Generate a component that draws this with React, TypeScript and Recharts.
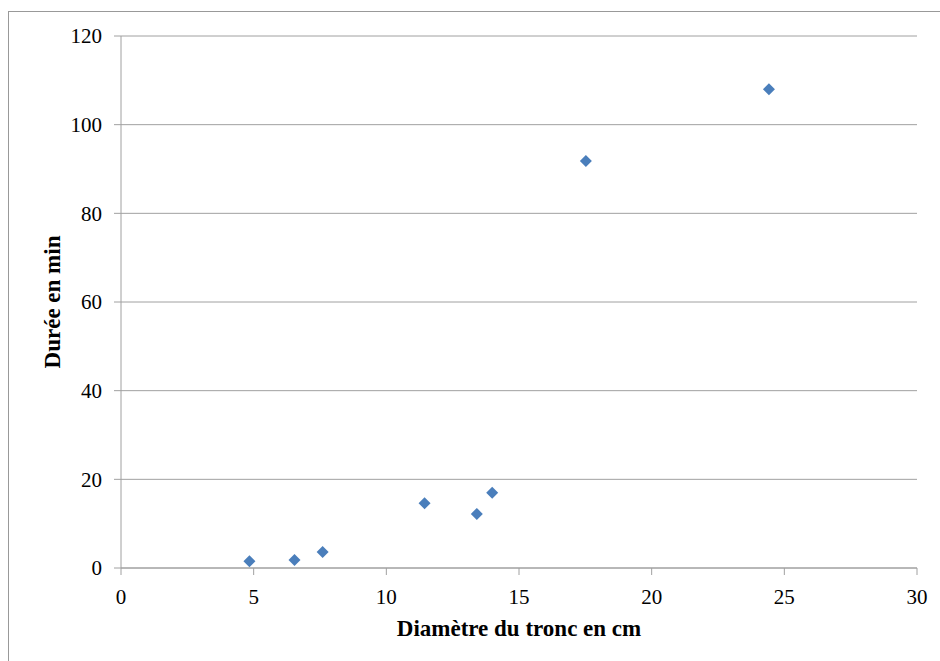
import { ScatterChart, Scatter, XAxis, YAxis, CartesianGrid } from "recharts";

const diametre = [4.84, 6.54, 7.6, 11.44, 13.41, 13.99, 17.52, 24.42];
const duree = [1.5, 1.8, 3.6, 14.6, 12.2, 17.0, 91.8, 108.0];
const xTicks = [0, 5, 10, 15, 20, 25, 30];
const yTicks = [0, 20, 40, 60, 80, 100, 120];

const points = diametre.map((d, i) => ({ diametre: d, duree: duree[i] }));

const font = "Liberation Serif";
const grey = "#a0a0a0";

function Diamond(props: any) {
  const { cx, cy } = props;
  const r = 6;
  return (
    <polygon
      points={`${cx},${cy - r} ${cx + r},${cy} ${cx},${cy + r} ${cx - r},${cy}`}
      fill="#4a7ebb"
    />
  );
}

export default function App() {
  return (
    <div
      style={{
        position: "absolute",
        left: 0,
        top: 0,
        width: 940,
        height: 661,
        background: "#fff",
        fontFamily: font,
      }}
    >
      <div
        style={{
          position: "absolute",
          left: 8,
          top: 11,
          right: 0,
          bottom: 0,
          borderLeft: "1px solid #999",
          borderTop: "1px solid #999",
        }}
      />
      <ScatterChart
        width={940}
        height={661}
        margin={{ top: 36, right: 23, left: 0, bottom: 0 }}
        style={{ position: "absolute", left: 0, top: 0, fontFamily: font }}
      >
        <CartesianGrid vertical={false} stroke={grey} strokeWidth={1} />
        <XAxis
          type="number"
          dataKey="diametre"
          domain={[0, 30]}
          ticks={xTicks}
          height={93}
          stroke={grey}
          tickSize={7}
          tickMargin={14}
          tick={{ fontSize: 21, fill: "#000", fontFamily: font }}
          label={{
            value: "Diamètre du tronc en cm",
            position: "insideBottom",
            offset: 25,
            style: { fontSize: 23, fontWeight: "bold", fill: "#000", fontFamily: font },
          }}
        />
        <YAxis
          type="number"
          dataKey="duree"
          domain={[0, 120]}
          ticks={yTicks}
          width={121}
          stroke={grey}
          tickSize={7}
          tickMargin={12}
          tick={{ fontSize: 21, fill: "#000", fontFamily: font }}
          label={{
            value: "Durée en min",
            position: "center",
            angle: -90,
            dx: -9,
            style: { fontSize: 23, fontWeight: "bold", fill: "#000", fontFamily: font, textAnchor: "middle" },
          }}
        />
        <Scatter data={points} shape={<Diamond />} isAnimationActive={false} />
      </ScatterChart>
    </div>
  );
}
